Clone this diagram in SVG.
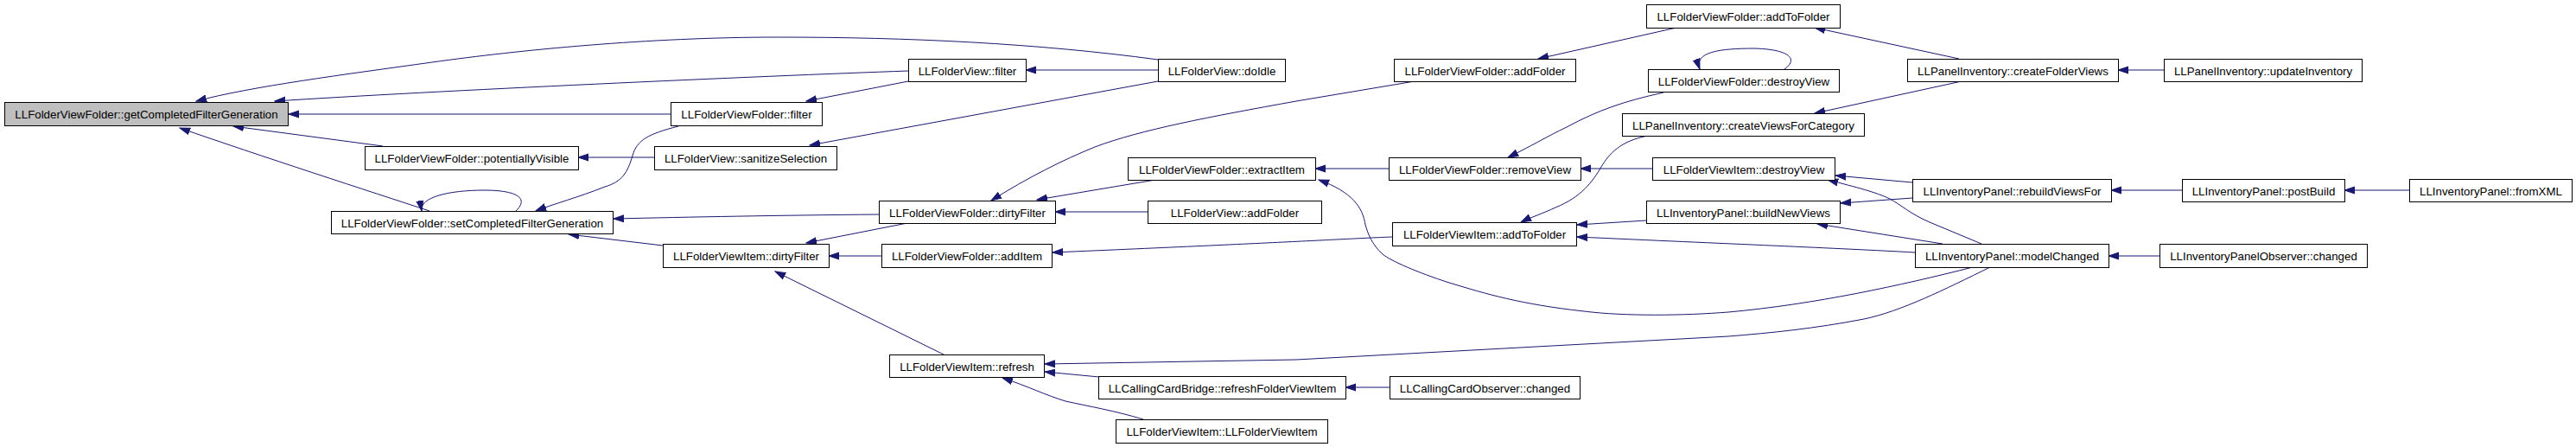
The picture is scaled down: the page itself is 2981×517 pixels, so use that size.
<svg xmlns="http://www.w3.org/2000/svg" width="2981" height="517" viewBox="0 0 2981 517">
<style>
.n rect{fill:#ffffff;stroke:#000000;stroke-width:1}
.n.root rect{fill:#bfbfbf}
.n text{font-family:"Liberation Sans",Arial,Helvetica,sans-serif;font-size:13.3px;fill:#000000;text-anchor:middle}
#edges path{fill:none;stroke:#191970;stroke-width:1;marker-end:url(#ah)}
</style>
<defs>
<marker id="ah" markerUnits="userSpaceOnUse" markerWidth="13" markerHeight="10" viewBox="0 -5 13 10" refX="12" refY="0" orient="auto">
<path d="M0,-4 L12,0 L0,4 z" fill="#191970" stroke="#191970" stroke-width="1"/>
</marker>
</defs>
<rect x="0" y="0" width="2981" height="517" fill="#ffffff"/>
<g id="edges">
<path d="M1340,69 C1200,50 1050,43 900,43 C750,43 600,58 500,72 C400,86 290,100 227,117"/>
<path d="M1051,82 C880,88 500,105 318,117"/>
<path d="M776,132 L334,132"/>
<path d="M443,169 L270,146"/>
<path d="M497,244 C430,222 300,180 208,148"/>
<path d="M597,244 C612,230 600,220 560,220 C520,220 485,228 488,244"/>
<path d="M785,146 C750,155 737,162 732,180 C726,200 720,210 700,216 C670,228 640,236 620,244"/>
<path d="M757,182 L669,182"/>
<path d="M1051,94 L933,117"/>
<path d="M1340,94 L937,168"/>
<path d="M1017,248 C900,249 800,251 710,253"/>
<path d="M767,284 L658,271"/>
<path d="M1050,258 L933,281"/>
<path d="M1020,296 L959,296"/>
<path d="M1092,410 L897,314"/>
<path d="M1637,94 L1500,117 C1400,135 1320,150 1267,170 C1230,185 1190,205 1147,232"/>
<path d="M1337,208 L1200,231"/>
<path d="M1328,245 L1221,245"/>
<path d="M1607,195 L1522,195"/>
<path d="M2283,309 C2200,330 2100,352 2000,361 C1950,365 1880,366 1833,360 C1760,352 1720,340 1677,327 C1640,315 1610,302 1600,294 C1587,282 1583,270 1580,260 C1577,240 1565,222 1526,208"/>
<path d="M1611,274 C1560,276 1500,280 1218,292"/>
<path d="M2303,309 C2250,335 2200,360 2157,369 C2100,380 2050,385 2000,389 L1500,416 L1209,421"/>
<path d="M1272,436 L1209,430"/>
<path d="M1323,485 C1290,475 1260,470 1233,464 C1210,457 1190,447 1160,437"/>
<path d="M1608,448 L1557,448"/>
<path d="M1940,32 L1780,68"/>
<path d="M1925,107 C1880,117 1850,127 1813,147 C1790,158 1770,170 1745,182"/>
<path d="M1912,195 L1829,195"/>
<path d="M2065,80 C2082,68 2070,57 2030,56 C1990,56 1960,60 1967,80"/>
<path d="M1907,157 C1875,163 1862,178 1853,193 C1843,210 1830,228 1800,240 C1785,247 1770,252 1760,257"/>
<path d="M1905,255 L1825,260"/>
<path d="M2216,292 C2127,287 2000,282 1825,274"/>
<path d="M2267,68 L2100,32"/>
<path d="M2270,94 L2100,131"/>
<path d="M2504,81 L2451,81"/>
<path d="M2213,211 L2124,203"/>
<path d="M2293,282 L2233,257 C2210,247 2200,237 2187,230 C2170,222 2150,217 2115,208"/>
<path d="M2213,229 L2130,235"/>
<path d="M2248,282 L2103,259"/>
<path d="M2525,220 L2443,220"/>
<path d="M2788,220 L2713,220"/>
<path d="M2499,296 L2440,296"/>
<path d="M1340,81 L1187,81"/>
</g>
<g id="n1" class="n root"><rect x="5.5" y="118.5" width="328" height="27"/><text x="169.5" y="137">LLFolderViewFolder::getCompletedFilterGeneration</text></g>
<g id="n2" class="n"><rect x="422.5" y="169.5" width="247" height="27"/><text x="546" y="188">LLFolderViewFolder::potentiallyVisible</text></g>
<g id="n3" class="n"><rect x="383.5" y="244.5" width="326" height="26"/><text x="546.5" y="262.5">LLFolderViewFolder::setCompletedFilterGeneration</text></g>
<g id="n4" class="n"><rect x="776.5" y="118.5" width="175" height="27"/><text x="864" y="137">LLFolderViewFolder::filter</text></g>
<g id="n5" class="n"><rect x="757.5" y="169.5" width="211" height="27"/><text x="863" y="188">LLFolderView::sanitizeSelection</text></g>
<g id="n6" class="n"><rect x="767.5" y="282.5" width="192" height="27"/><text x="863.5" y="301">LLFolderViewItem::dirtyFilter</text></g>
<g id="n7" class="n"><rect x="1051.5" y="68.5" width="136" height="26"/><text x="1119.5" y="86.5">LLFolderView::filter</text></g>
<g id="n8" class="n"><rect x="1340.5" y="68.5" width="147" height="26"/><text x="1414" y="86.5">LLFolderView::doIdle</text></g>
<g id="n9" class="n"><rect x="1305.5" y="182.5" width="217" height="26"/><text x="1414" y="200.5">LLFolderViewFolder::extractItem</text></g>
<g id="n10" class="n"><rect x="1017.5" y="232.5" width="204" height="26"/><text x="1119.5" y="250.5">LLFolderViewFolder::dirtyFilter</text></g>
<g id="n11" class="n"><rect x="1328.5" y="232.5" width="201" height="26"/><text x="1429" y="250.5">LLFolderView::addFolder</text></g>
<g id="n12" class="n"><rect x="1020.5" y="282.5" width="197" height="27"/><text x="1119" y="301">LLFolderViewFolder::addItem</text></g>
<g id="n13" class="n"><rect x="1029.5" y="410.5" width="179" height="26"/><text x="1119" y="428.5">LLFolderViewItem::refresh</text></g>
<g id="n14" class="n"><rect x="1271.5" y="435.5" width="286" height="26"/><text x="1414.5" y="453.5">LLCallingCardBridge::refreshFolderViewItem</text></g>
<g id="n15" class="n"><rect x="1291.5" y="485.5" width="245" height="27"/><text x="1414" y="504">LLFolderViewItem::LLFolderViewItem</text></g>
<g id="n16" class="n"><rect x="1608.5" y="435.5" width="220" height="26"/><text x="1718.5" y="453.5">LLCallingCardObserver::changed</text></g>
<g id="n17" class="n"><rect x="1613.5" y="68.5" width="210" height="26"/><text x="1718.5" y="86.5">LLFolderViewFolder::addFolder</text></g>
<g id="n18" class="n"><rect x="1607.5" y="182.5" width="222" height="26"/><text x="1718.5" y="200.5">LLFolderViewFolder::removeView</text></g>
<g id="n19" class="n"><rect x="1611.5" y="257.5" width="213" height="27"/><text x="1718" y="276">LLFolderViewItem::addToFolder</text></g>
<g id="n20" class="n"><rect x="1905.5" y="5.5" width="224" height="27"/><text x="2017.5" y="24">LLFolderViewFolder::addToFolder</text></g>
<g id="n21" class="n"><rect x="1907.5" y="80.5" width="221" height="26"/><text x="2018" y="98.5">LLFolderViewFolder::destroyView</text></g>
<g id="n22" class="n"><rect x="1877.5" y="131.5" width="280" height="26"/><text x="2017.5" y="149.5">LLPanelInventory::createViewsForCategory</text></g>
<g id="n23" class="n"><rect x="1912.5" y="182.5" width="211" height="26"/><text x="2018" y="200.5">LLFolderViewItem::destroyView</text></g>
<g id="n24" class="n"><rect x="1905.5" y="232.5" width="224" height="26"/><text x="2017.5" y="250.5">LLInventoryPanel::buildNewViews</text></g>
<g id="n25" class="n"><rect x="2207.5" y="68.5" width="244" height="26"/><text x="2329.5" y="86.5">LLPanelInventory::createFolderViews</text></g>
<g id="n26" class="n"><rect x="2213.5" y="207.5" width="230" height="26"/><text x="2328.5" y="225.5">LLInventoryPanel::rebuildViewsFor</text></g>
<g id="n27" class="n"><rect x="2216.5" y="282.5" width="224" height="27"/><text x="2328.5" y="301">LLInventoryPanel::modelChanged</text></g>
<g id="n28" class="n"><rect x="2504.5" y="68.5" width="229" height="26"/><text x="2619" y="86.5">LLPanelInventory::updateInventory</text></g>
<g id="n29" class="n"><rect x="2525.5" y="207.5" width="188" height="26"/><text x="2619.5" y="225.5">LLInventoryPanel::postBuild</text></g>
<g id="n30" class="n"><rect x="2788.5" y="207.5" width="188" height="26"/><text x="2882.5" y="225.5">LLInventoryPanel::fromXML</text></g>
<g id="n31" class="n"><rect x="2499.5" y="282.5" width="240" height="27"/><text x="2619.5" y="301">LLInventoryPanelObserver::changed</text></g>
</svg>
